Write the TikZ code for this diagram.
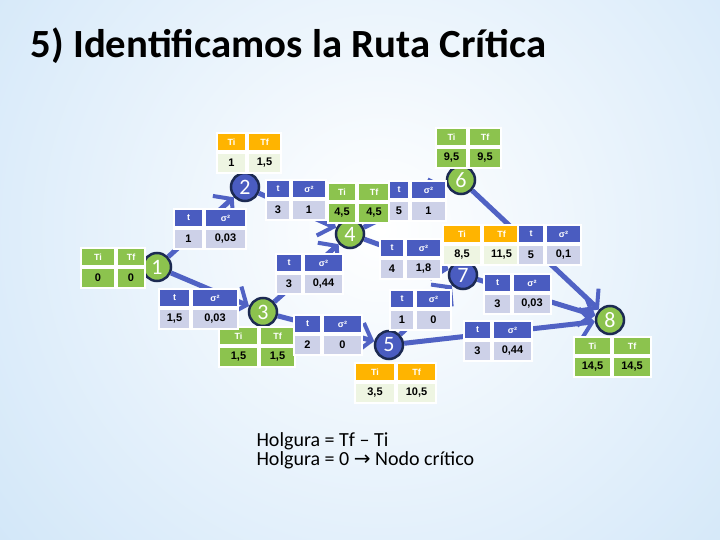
\documentclass[tikz,border=0pt]{standalone}
\usepackage{fontspec}
\setmainfont{Carlito}
\newfontfamily\tablafont{Liberation Sans}
\newfontfamily\simbolofont{DejaVu Sans}
\usetikzlibrary{arrows.meta,positioning}

\definecolor{azul}{HTML}{4A5CC0}
\definecolor{azulclaro}{HTML}{CDD1E8}
\definecolor{verde}{HTML}{8CC34E}
\definecolor{verdeclaro}{HTML}{EEF5E2}
\definecolor{naranja}{HTML}{FFB400}
\definecolor{borde}{HTML}{1C2A52}
\definecolor{linea}{HTML}{5062C4}
\definecolor{fondo}{HTML}{B5D7F4}

\tikzset{
  cab/.style={draw=white, line width=2pt, inner sep=0pt, minimum height=18pt,
    text=white, font=\tablafont\bfseries\fontsize{9}{10}\selectfont},
  val/.style={draw=white, line width=2pt, inner sep=0pt, minimum height=20pt,
    text=black, font=\tablafont\bfseries\fontsize{11}{12}\selectfont},
  nodo/.style={circle, draw=borde, line width=2.5pt, minimum size=28pt,
    inner sep=0pt, text=white, font=\fontsize{22}{22}\selectfont},
  flecha/.style={draw=linea, line width=5pt, -{Straight Barb[length=12pt,width=30pt,line width=4pt]}},
}

% tabla Ti / Tf de un nodo: nombre, x, y, ancho1, ancho2, Ti, Tf, cabecera, cuerpo
\newcommand{\tabTiTf}[9]{%
  \node[cab, fill=#8, minimum width=#4pt, anchor=north west] (#1a) at (#2,#3) {Ti};
  \node[cab, fill=#8, minimum width=#5pt, right=0pt of #1a] (#1b) {Tf};
  \node[val, fill=#9, minimum width=#4pt, below=0pt of #1a] (#1c) {#6};
  \node[val, fill=#9, minimum width=#5pt, below=0pt of #1b] (#1d) {#7};
}
% tabla t / sigma^2 de una actividad: nombre, x, y, ancho1, ancho2, t, sigma^2
\newcommand{\tabTS}[7]{%
  \node[cab, fill=azul, minimum width=#4pt, anchor=north west] (#1a) at (#2,#3) {t};
  \node[cab, fill=azul, minimum width=#5pt, right=0pt of #1a] (#1b) {σ²};
  \node[val, fill=azulclaro, minimum width=#4pt, below=0pt of #1a] (#1c) {#6};
  \node[val, fill=azulclaro, minimum width=#5pt, below=0pt of #1b] (#1d) {#7};
}

\begin{document}
\begin{tikzpicture}[x=1pt, y=-1pt]
	\useasboundingbox (0,0) rectangle (720,540);
	% fondo
	\fill [fondo] (0,0) rectangle (720,540);
	\begin{scope}
		\clip (0,0) rectangle (720,540);
		\shade [inner color=white, outer color=fondo] (380,230) circle (820);
	\end{scope}

	\node [anchor=base west, font=\bfseries\fontsize{40}{44}\selectfont] (titulo) at (27,58)
		{\scalebox{1.02}[1]{5) Identificamos la Ruta Crítica}};

	% nodos
	\node [nodo, fill=verde] (n1) at (157,267) {1};
	\node [nodo, fill=azul] (n2) at (245,187) {2};
	\node [nodo, fill=verde] (n3) at (263,312) {3};
	\node [nodo, fill=verde] (n4) at (350,234) {4};
	\node [nodo, fill=azul] (n5) at (389,345) {5};
	\node [nodo, fill=verde] (n6) at (461,180) {6};
	\node [nodo, fill=azul] (n7) at (463,275) {7};
	\node [nodo, fill=verde] (n8) at (610,320) {8};

	% actividades
	\draw [flecha] (n1) -- (n2);
	\draw [flecha] (n1) -- (n3);
	\draw [flecha] (n2) -- (n4);
	\draw [flecha] (n3) -- (n4);
	\draw [flecha] (n3) -- (n5);
	\draw [flecha] (n4) -- (n6);
	\draw [flecha] (n4) -- (n7);
	\draw [flecha] (n5) -- (n7);
	\draw [flecha] (n5) -- (n8);
	\draw [flecha] (n6) -- (n8);
	\draw [flecha] (n7) -- (n8);

	% tiempos de los nodos
	\tabTiTf{ti1}{80}{247}{34}{28}{0}{0}{verde}{verde}
	\tabTiTf{ti2}{216}{132}{29}{33}{1}{1,5}{naranja}{verdeclaro}
	\tabTiTf{ti3}{218}{326}{39}{35}{1,5}{1,5}{verde}{verde}
	\tabTiTf{ti4}{327}{182}{28}{32}{4,5}{4,5}{verde}{verde}
	\tabTiTf{ti5}{354}{362}{40}{39}{3,5}{10,5}{naranja}{verdeclaro}
	\tabTiTf{ti6}{435}{127}{31}{32}{9,5}{9,5}{verde}{verde}
	\tabTiTf{ti7}{442}{224}{38}{37}{8,5}{11,5}{naranja}{verdeclaro}
	\tabTiTf{ti8}{573}{336}{37}{38}{14,5}{14,5}{verde}{verde}

	% duraciones y varianzas
	\tabTS{a12}{173}{208}{29}{41}{1}{0,03}
	\tabTS{a13}{158}{288}{31}{46}{1,5}{0,03}
	\tabTS{a24}{265}{179}{24}{34}{3}{1}
	\tabTS{a34}{275}{253}{26}{39}{3}{0,44}
	\tabTS{a35}{293}{314}{27}{39}{2}{0}
	\tabTS{a46}{388}{180}{20}{35}{5}{1}
	\tabTS{a47}{379}{238}{24}{35}{4}{1,8}
	\tabTS{a57}{389}{289}{24}{35}{1}{0}
	\tabTS{a58}{463}{320}{27}{39}{3}{0,44}
	\tabTS{a68}{517}{224}{26}{35}{5}{0,1}
	\tabTS{a78}{483}{273}{27}{38}{3}{0,03}

	\node [anchor=base west, align=left, font=\fontsize{20}{19}\selectfont] (holgura) at (253,465)
		{Holgura = Tf – Ti\\Holgura = 0 {\simbolofont\fontsize{20}{19}\selectfont →} Nodo crítico};
\end{tikzpicture}
\end{document}
